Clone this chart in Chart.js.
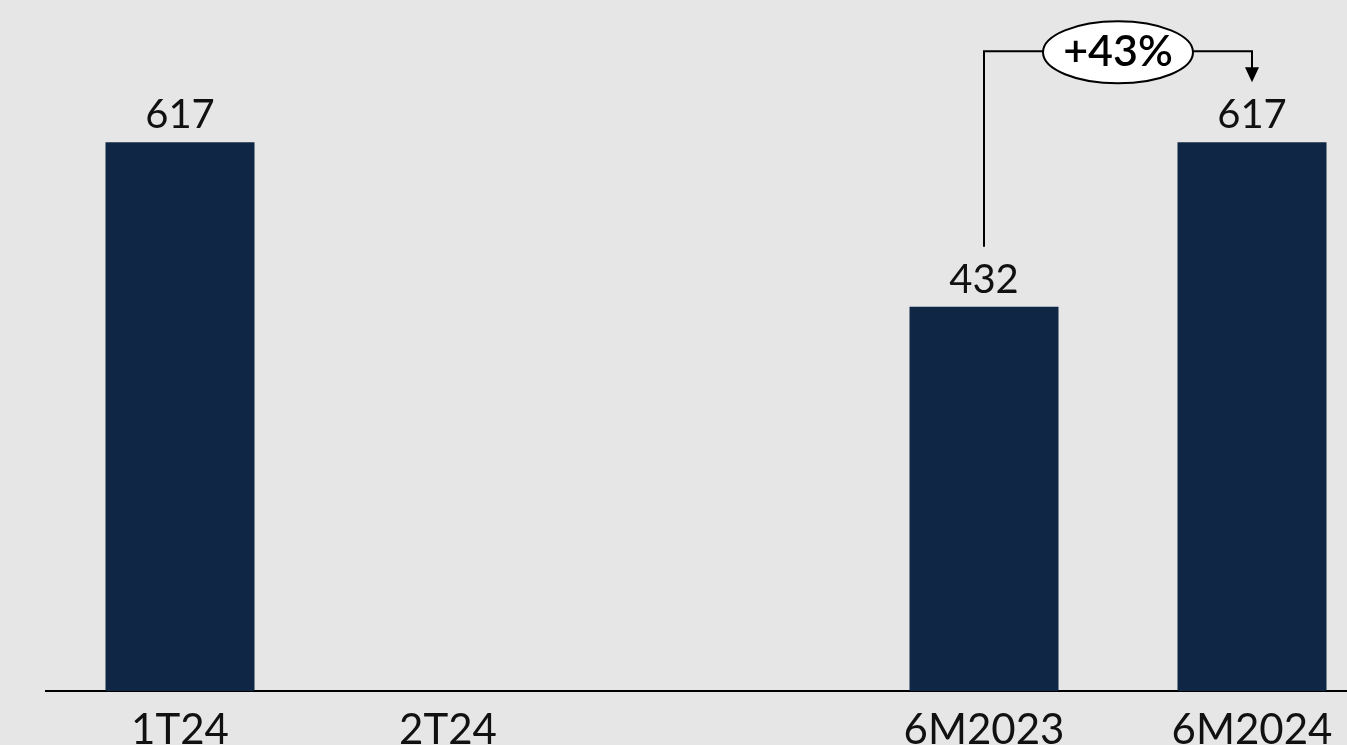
<!DOCTYPE html>
<html>
<head>
<meta charset="utf-8">
<script src="https://cdn.jsdelivr.net/npm/chart.js@4.4.1/dist/chart.umd.min.js"></script>
<style>
  html, body { margin: 0; padding: 0; background: #e6e6e6; overflow: hidden; }
  #wrap { position: relative; width: 1386px; height: 745px; }
</style>
</head>
<body>
<div id="wrap"><canvas id="barChart"></canvas></div>
<script>
var categories = ['1T24', '2T24', '', '6M2023', '6M2024'];
var values = [617, null, null, 432, 617];
var compareFrom = 3; // 6M2023
var compareTo = 4;   // 6M2024

var navy = '#0f2644';
var fontFamily = 'Lato, "Open Sans", sans-serif';

// value labels above the bars
var valueLabels = {
    id: 'valueLabels',
    afterDatasetsDraw: function (chart) {
        var ctx = chart.ctx;
        var meta = chart.getDatasetMeta(0);
        ctx.save();
        ctx.font = '400 40px ' + fontFamily;
        ctx.fillStyle = '#111';
        ctx.textAlign = 'center';
        ctx.textBaseline = 'alphabetic';
        meta.data.forEach(function (bar, i) {
            if (values[i] == null) return;
            ctx.fillText(String(values[i]), bar.x, bar.y - 14);
        });
        ctx.restore();
    }
};

// growth bracket between the two half-year bars
var growthBracket = {
    id: 'growthBracket',
    afterDatasetsDraw: function (chart) {
        var ctx = chart.ctx;
        var meta = chart.getDatasetMeta(0);
        var a = meta.data[compareFrom];
        var b = meta.data[compareTo];
        var topY = Math.min(a.y, b.y) - 91;
        var startY = a.y - 60;
        var tipY = b.y - 60;
        var midX = (a.x + b.x) / 2;
        var pct = Math.round((values[compareTo] / values[compareFrom] - 1) * 100);

        ctx.save();
        ctx.strokeStyle = '#000';
        ctx.lineWidth = 2;
        ctx.beginPath();
        ctx.moveTo(a.x, startY);
        ctx.lineTo(a.x, topY);
        ctx.lineTo(b.x, topY);
        ctx.lineTo(b.x, tipY - 14);
        ctx.stroke();

        ctx.fillStyle = '#000';
        ctx.beginPath();
        ctx.moveTo(b.x - 7, tipY - 15);
        ctx.lineTo(b.x + 7, tipY - 15);
        ctx.lineTo(b.x, tipY);
        ctx.closePath();
        ctx.fill();

        ctx.beginPath();
        ctx.ellipse(midX, topY + 1, 75, 31, 0, 0, Math.PI * 2);
        ctx.fillStyle = '#fff';
        ctx.fill();
        ctx.stroke();

        ctx.fillStyle = '#000';
        ctx.font = '600 43px ' + fontFamily;
        ctx.textAlign = 'center';
        ctx.textBaseline = 'middle';
        ctx.fillText('+' + pct + '%', midX, topY + 1);
        ctx.restore();
    }
};

var chartElem = document.getElementById('barChart').getContext('2d');

var barChart = new Chart(chartElem, {
    type: 'bar',
    data: {
        labels: categories,
        datasets: [{
            label: 'Valor',
            data: values,
            backgroundColor: navy,
            borderWidth: 0,
            categoryPercentage: 1,
            barPercentage: 0.556
        }]
    },
    options: {
        responsive: true,
        maintainAspectRatio: false,
        animation: false,
        layout: { padding: { left: 46, right: 0, top: 0, bottom: 0 } },
        plugins: {
            legend: { display: false },
            tooltip: { enabled: false }
        },
        scales: {
            x: {
                grid: { display: false },
                border: { display: true, color: '#000', width: 2 },
                ticks: {
                    color: '#111',
                    font: { family: fontFamily, size: 42 },
                    padding: 6,
                    maxRotation: 0,
                    autoSkip: false
                },
                afterFit: function (scale) { scale.height = 54; }
            },
            y: {
                display: false,
                min: 0,
                max: 777
            }
        }
    },
    plugins: [valueLabels, growthBracket]
});
</script>
</body>
</html>
